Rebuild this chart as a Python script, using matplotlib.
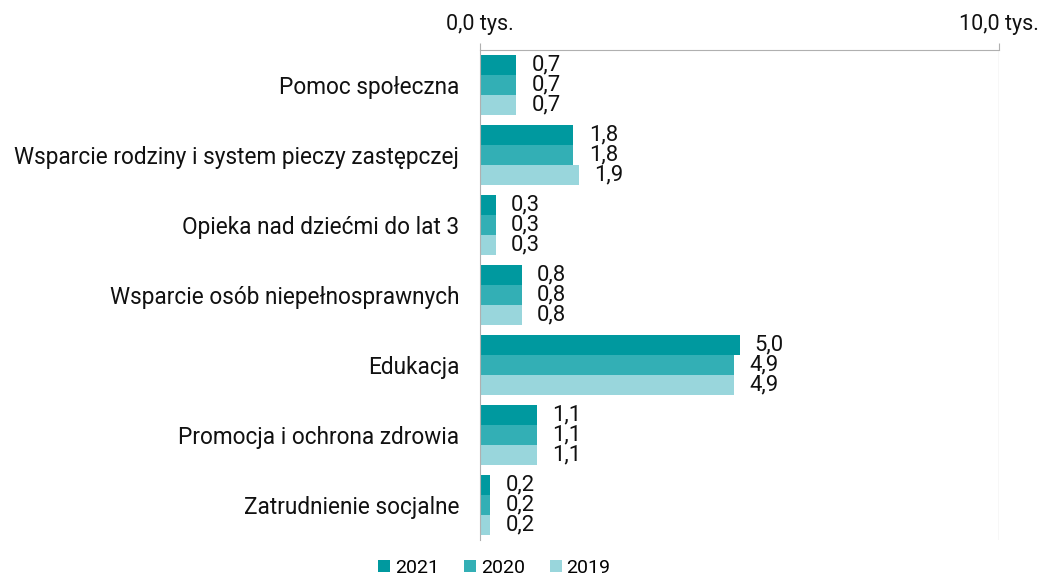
import matplotlib.pyplot as plt
import numpy as np

# dane
kategorie = ['Pomoc społeczna', 'Wsparcie rodziny i system pieczy zastępczej',
             'Opieka nad dziećmi do lat 3', 'Wsparcie osób niepełnosprawnych',
             'Edukacja', 'Promocja i ochrona zdrowia', 'Zatrudnienie socjalne']
lata = ['2021', '2020', '2019']
w2021 = [0.7, 1.8, 0.3, 0.8, 5.0, 1.1, 0.2]
w2020 = [0.7, 1.8, 0.3, 0.8, 4.9, 1.1, 0.2]
w2019 = [0.7, 1.9, 0.3, 0.8, 4.9, 1.1, 0.2]
kolory = ['#00999f', '#33afb5', '#99d6dc']

plt.rcParams['font.family'] = ['Roboto', 'DejaVu Sans']

fig = plt.figure(figsize=(10.41, 5.77), dpi=100)
ax = fig.add_axes([480/1041, 1 - 540/577, 519/1041, 490/577])

y = np.arange(len(kategorie))
h = 0.2857
for i, (dane, kol) in enumerate(zip([w2021, w2020, w2019], kolory)):
    pos = y + (i - 1) * h
    ax.barh(pos, dane, height=h, color=kol, label=lata[i])
    for p, v in zip(pos, dane):
        ax.annotate(f'{v:.1f}'.replace('.', ','), (v, p), xytext=(11, 0),
                    textcoords='offset points', va='center', ha='left',
                    fontsize=15.8, color='#111111')

ax.set_xlim(0, 10)
ax.set_ylim(len(kategorie) - 0.5, -0.5)
ax.set_yticks(y)
ax.set_yticklabels(kategorie, fontsize=16.3, color='#111111')
ax.tick_params(axis='y', length=0, pad=15)

ax.xaxis.tick_top()
ax.set_xticks([0, 10])
ax.set_xticklabels(['0,0 tys.', '10,0 tys.'], fontsize=15.5, color='#111111')
ax.tick_params(axis='x', length=5, color='#b0b0b0', pad=6)

for s in ['right', 'bottom']:
    ax.spines[s].set_visible(False)
ax.spines['top'].set_color('#b0b0b0')
ax.spines['left'].set_color('#b0b0b0')
ax.axvline(10, color='#d9d9d9', lw=1)

fig.legend(loc='lower center', bbox_to_anchor=(0.475, -0.03), ncol=3, frameon=False,
           fontsize=14, handlelength=0.6, handleheight=0.6, handletextpad=0.25,
           columnspacing=1.3)

fig.savefig('out.png', dpi=100)
